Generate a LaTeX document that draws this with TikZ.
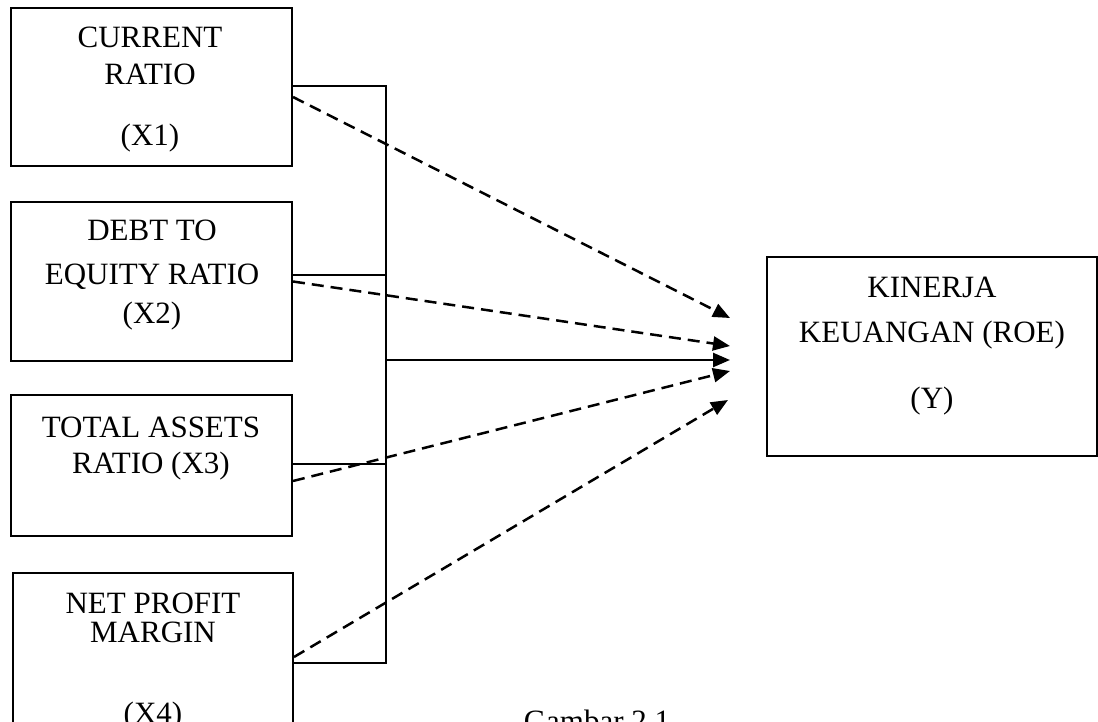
\documentclass[tikz,border=0pt]{standalone}
\usepackage{fontspec}
\setmainfont{Liberation Serif}
\usetikzlibrary{arrows.meta}
\begin{document}
\begin{tikzpicture}[x=1pt,y=-1pt,
  box/.style={draw, line width=2pt, inner sep=0pt},
  lbl/.style={anchor=base, inner sep=0pt, font=\fontsize{31}{37}\selectfont},
  link/.style={line width=2pt},
  arr/.style={line width=2.5pt, -{Triangle[length=17pt,width=14pt]}},
  darr/.style={arr, dash pattern=on 12pt off 7pt}]
\clip (0,0) rectangle (1098,722);
% boxes
\node[box, minimum width=281pt, minimum height=158pt] (b1) at (151.5,87) {};
\node[box, minimum width=281pt, minimum height=159pt] (b2) at (151.5,281.5) {};
\node[box, minimum width=281pt, minimum height=141pt] (b3) at (151.5,465.5) {};
\node[box, minimum width=280pt, minimum height=200pt] (b4) at (153,673) {};
\node[box, minimum width=330pt, minimum height=199pt] (r) at (932,356.5) {};
% texts
\node[lbl] (t1a) at (150,48) {CURRENT};
\node[lbl] (t1b) at (150,85) {RATIO};
\node[lbl] (t1c) at (150,146) {(X1)};
\node[lbl] (t2a) at (152,241) {DEBT TO};
\node[lbl] (t2b) at (152,284) {EQUITY RATIO};
\node[lbl] (t2c) at (152,323) {(X2)};
\node[lbl] (t3a) at (151,437) {TOTAL ASSETS};
\node[lbl] (t3b) at (151,473) {RATIO (X3)};
\node[lbl] (t4a) at (153,613) {NET PROFIT};
\node[lbl] (t4b) at (153,642) {MARGIN};
\node[lbl] (t4c) at (153,723) {(X4)};
\node[lbl] (ta) at (932,298) {KINERJA};
\node[lbl] (tb) at (932,342) {KEUANGAN (ROE)};
\node[lbl] (tc) at (932,408) {(Y)};
\node[lbl] (cap) at (597,731) {Gambar 2.1};
% bus
\coordinate (j1) at (386,86);
\coordinate (j2) at (386,275);
\coordinate (j3) at (386,464);
\coordinate (j4) at (386,663);
\coordinate (jm) at (386,360);
\coordinate (e1) at (730,318);
\coordinate (e2) at (730,346);
\coordinate (e0) at (730,360);
\coordinate (e3) at (730,371);
\coordinate (e4) at (728,400);
\draw[link] (b1.east |- j1) -- (j1) -- (j4) -- (b4.east |- j4);
\draw[link] (b2.east |- j2) -- (j2);
\draw[link] (b3.east |- j3) -- (j3);
\draw[arr] (jm) -- (e0);
% dashed arrows
\draw[darr] ([yshift=-10pt]b1.east) -- (e1);
\draw[darr] (b2.east) -- (e2);
\draw[darr] ([yshift=-15.5pt]b3.east) -- (e3);
\draw[darr] ([yshift=16pt]b4.east) -- (e4);
\end{tikzpicture}
\end{document}
